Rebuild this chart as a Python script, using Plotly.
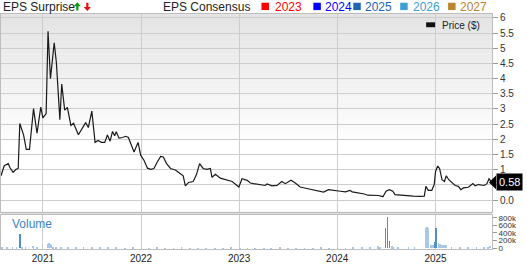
import plotly.graph_objects as go

# ---------------- data ----------------
price_dates = [
    "2020-07-29", "2020-08-10", "2020-08-25", "2020-08-31", "2020-09-12", "2020-09-23", "2020-10-01",
    "2020-10-07", "2020-10-21", "2020-10-31", "2020-11-12", "2020-11-27", "2020-12-10", "2020-12-24",
    "2021-01-01", "2021-01-13", "2021-01-20", "2021-01-29", "2021-02-12", "2021-02-20", "2021-03-05",
    "2021-03-12", "2021-03-23", "2021-04-02", "2021-04-15", "2021-04-25", "2021-05-13", "2021-05-28",
    "2021-06-09", "2021-06-19", "2021-07-02", "2021-07-14", "2021-07-25", "2021-08-07", "2021-08-19",
    "2021-08-29", "2021-09-08", "2021-09-17", "2021-09-25", "2021-10-01", "2021-10-11", "2021-10-24",
    "2021-11-05", "2021-11-15", "2021-11-24", "2021-12-06", "2021-12-21", "2021-12-31", "2022-01-12",
    "2022-01-25", "2022-02-06", "2022-02-18", "2022-03-03", "2022-03-15", "2022-03-25", "2022-04-06",
    "2022-04-21", "2022-05-09", "2022-05-25", "2022-06-07", "2022-06-15", "2022-06-27", "2022-07-14",
    "2022-07-26", "2022-08-07", "2022-08-20", "2022-09-04", "2022-09-16", "2022-09-22", "2022-10-05",
    "2022-10-23", "2022-11-14", "2022-12-06", "2022-12-31", "2023-01-12", "2023-01-31", "2023-02-12",
    "2023-02-24", "2023-03-21", "2023-04-08", "2023-04-15", "2023-05-03", "2023-05-22", "2023-06-09",
    "2023-06-22", "2023-07-13", "2023-07-29", "2023-08-16", "2023-09-10", "2023-10-05", "2023-10-24",
    "2023-11-11", "2023-11-30", "2023-12-19", "2024-01-13", "2024-02-01", "2024-02-17", "2024-02-26",
    "2024-03-21", "2024-04-11", "2024-04-23", "2024-05-15", "2024-06-03", "2024-06-19", "2024-07-01",
    "2024-07-13", "2024-07-26", "2024-08-03", "2024-08-22", "2024-09-16", "2024-10-10", "2024-11-04",
    "2024-11-20", "2024-11-26", "2024-12-05", "2024-12-18", "2024-12-27", "2025-01-01", "2025-01-09",
    "2025-01-16", "2025-01-25", "2025-02-03", "2025-02-10", "2025-02-19", "2025-03-03", "2025-03-15",
    "2025-03-27", "2025-04-05", "2025-04-15", "2025-05-03", "2025-05-20", "2025-05-28", "2025-06-09",
    "2025-07-01", "2025-07-11", "2025-07-19", "2025-07-29",
]
price_values = [
    0.80, 1.13, 1.20, 1.07, 0.91, 1.01, 1.04,
    2.52, 2.15, 1.67, 1.67, 3.01, 2.20, 3.06,
    2.71, 2.85, 5.56, 4.00, 5.18, 4.54, 2.65,
    3.82, 2.96, 3.05, 2.46, 2.53, 2.15, 2.36,
    2.55, 2.39, 2.93, 1.90, 1.96, 1.90, 1.90,
    2.14, 1.94, 2.26, 2.12, 2.25, 2.04, 2.06,
    2.10, 2.06, 1.85, 1.58, 1.90, 1.47, 1.31,
    1.05, 1.01, 1.04, 1.26, 1.44, 1.42, 1.20,
    1.04, 0.99, 0.88, 0.80, 0.47, 0.58, 0.61,
    0.83, 1.20, 1.04, 1.01, 1.04, 0.75, 0.85,
    0.72, 0.67, 0.61, 0.43, 0.70, 0.65, 0.56,
    0.54, 0.51, 0.48, 0.53, 0.47, 0.48, 0.61,
    0.54, 0.65, 0.56, 0.43, 0.38, 0.34, 0.31,
    0.26, 0.34, 0.31, 0.29, 0.27, 0.32, 0.27,
    0.24, 0.20, 0.16, 0.16, 0.15, 0.11, 0.29,
    0.34, 0.29, 0.18, 0.16, 0.15, 0.13, 0.12,
    0.13, 0.45, 0.32, 0.32, 0.51, 0.94, 1.12,
    1.04, 0.67, 0.61, 0.80, 0.67, 0.58, 0.48,
    0.45, 0.34, 0.40, 0.42, 0.54, 0.47, 0.51,
    0.48, 0.54, 0.70, 0.58,
]
last_price_label = "0.58"

# volume: small background bars (light) and spikes (darker)
vol_base_dates = [
    "2020-08-03", "2020-08-20", "2020-09-10", "2020-09-25", "2020-10-14", "2020-10-28", "2020-11-24",
    "2020-11-27", "2020-12-10", "2021-01-19", "2021-01-23", "2021-01-27", "2021-01-31", "2021-02-08",
    "2021-02-20", "2021-03-10", "2021-04-05", "2021-05-03", "2021-06-01", "2021-07-04", "2021-08-02",
    "2021-09-01", "2021-10-01", "2021-11-01", "2021-12-01", "2022-01-03", "2022-02-01", "2022-03-01",
    "2022-04-01", "2022-05-02", "2022-06-01", "2022-07-01", "2022-08-01", "2022-09-01", "2022-10-03",
    "2022-11-01", "2022-12-01", "2023-01-03", "2023-02-01", "2023-03-01", "2023-04-03", "2023-05-01",
    "2023-06-01", "2023-07-03", "2023-08-01", "2023-09-01", "2023-10-02", "2023-11-01", "2023-12-01",
    "2024-01-02", "2024-02-01", "2024-03-01", "2024-04-01", "2024-05-01", "2024-06-01", "2024-06-07",
    "2024-07-22", "2024-07-28", "2024-08-15", "2024-09-22", "2024-10-15", "2024-11-27", "2024-11-30",
    "2024-12-03", "2024-12-06", "2024-12-14", "2024-12-22", "2025-01-12", "2025-01-18", "2025-01-25",
    "2025-02-01", "2025-02-08", "2025-03-01", "2025-04-01", "2025-05-01", "2025-06-02", "2025-07-01",
    "2025-07-16", "2025-07-23",
]
vol_base_values = [
    25000, 15000, 10000, 12000, 40000, 20000, 60000,
    45000, 15000, 120000, 135000, 110000, 95000, 40000,
    25000, 15000, 12000, 10000, 12000, 35000, 10000,
    9000, 10000, 8000, 9000, 10000, 8000, 9000,
    8000, 7000, 9000, 8000, 7000, 8000, 7000,
    8000, 9000, 8000, 7000, 8000, 7000, 8000,
    9000, 8000, 7000, 8000, 7000, 9000, 8000,
    9000, 8000, 10000, 9000, 12000, 50000, 30000,
    50000, 25000, 15000, 35000, 15000, 550000, 560000,
    540000, 525000, 77000, 80000, 145000, 125000, 80000,
    80000, 85000, 20000, 18000, 15000, 15000, 20000,
    30000, 60000,
]
vol_spike_dates = ["2020-10-08", "2024-06-28", "2024-07-06", "2024-07-13", "2024-12-28", "2025-01-03"]
vol_spike_values = [380000, 525000, 825000, 190000, 160000, 525000]

year_ticks = ["2021-01-01", "2022-01-01", "2023-01-01", "2024-01-01", "2025-01-01"]
year_labels = ["2021", "2022", "2023", "2024", "2025"]
price_ticks = [0, 0.5, 1, 1.5, 2, 2.5, 3, 3.5, 4, 4.5, 5, 5.5, 6]
# the 0.5 label sits under the last-price flag in the reference, so it stays blank
price_tick_labels = ["0.0", "", "1", "1.5", "2", "2.5", "3", "3.5", "4", "4.5", "5", "5.5", "6"]
vol_ticks = [0, 200000, 400000, 600000, 800000]
vol_tick_labels = ["0", "200k", "400k", "600k", "800k"]
consensus_years = ["2023", "2024", "2025", "2026", "2027"]

# ---------------- layout helpers ----------------
W, H = 527, 264
ML, MR, MT, MB = 0, 35, 14, 10
PW, PH = W - ML - MR, H - MT - MB


def px_x(px):
    return (px - ML) / PW


def px_y(py):
    return (H - MB - py) / PH


FONT = "Arial, Liberation Sans, sans-serif"
DAY = 86400000

fig = go.Figure()
fig.add_trace(go.Scatter(x=price_dates, y=price_values, mode="lines",
                         line=dict(color="#1a1a1a", width=1.2), xaxis="x", yaxis="y",
                         hoverinfo="skip", showlegend=False))
fig.add_trace(go.Bar(x=vol_base_dates, y=vol_base_values, width=3 * DAY,
                     marker=dict(color="#a9c8e6", line=dict(width=0)), xaxis="x2", yaxis="y2",
                     showlegend=False))
fig.add_trace(go.Bar(x=vol_spike_dates, y=vol_spike_values, width=1.6 * DAY,
                     marker=dict(color="#4f8fca", line=dict(width=0)), xaxis="x2", yaxis="y2",
                     showlegend=False))

x_range = ["2020-07-29", "2025-07-30"]
grid = "#cdcdcd"
axcol = "#bdbdbd"

shapes = []
# gradient background of price panel
n_bands = 34
top_px, bot_px = 14, 150
for i in range(n_bands):
    y0 = top_px + (bot_px - top_px) * i / n_bands
    y1 = top_px + (bot_px - top_px) * (i + 1) / n_bands
    c = int(228 + (255 - 228) * (i / (n_bands - 1)))
    shapes.append(dict(type="rect", xref="paper", yref="paper", x0=0, x1=1,
                       y0=px_y(y1) - 0.001, y1=px_y(y0), fillcolor=f"rgb({c},{c},{c})",
                       line=dict(width=0), layer="below"))
# separator between panels
shapes.append(dict(type="rect", xref="paper", yref="paper", x0=0, x1=1,
                   y0=px_y(219), y1=px_y(216), fillcolor="#dedede", line=dict(width=0), layer="below"))
# "Price ($)" legend swatch
shapes.append(dict(type="rect", xref="paper", yref="paper", x0=px_x(426), x1=px_x(435),
                   y0=px_y(27.5), y1=px_y(22.5), fillcolor="#111", line=dict(width=0)))
# consensus colour squares
sq_x = [261, 313, 353, 400, 448]
sq_col = ["#ff0000", "#0000ff", "#2062b4", "#3aa0d4", "#b8862e"]
for sx, col in zip(sq_x, sq_col):
    shapes.append(dict(type="rect", xref="paper", yref="paper", x0=px_x(sx), x1=px_x(sx + 7.5),
                       y0=px_y(10), y1=px_y(2.5), fillcolor=col, line=dict(width=0)))


def arrow_path(cx, ytip, ybase, up):
    # thick arrow glyph: triangular head plus stem
    hw, sw = 3.6, 1.1
    yneck = ytip + 4.2 if up else ytip - 4.2
    pts = [(cx, ytip), (cx + hw, yneck), (cx + sw, yneck), (cx + sw, ybase),
           (cx - sw, ybase), (cx - sw, yneck), (cx - hw, yneck)]
    return "M " + " L ".join(f"{px_x(x)} {px_y(y)}" for x, y in pts) + " Z"


shapes.append(dict(type="path", xref="paper", yref="paper", path=arrow_path(76.5, 2.0, 10.5, True),
                   fillcolor="#0a9a0a", line=dict(width=0)))
shapes.append(dict(type="path", xref="paper", yref="paper", path=arrow_path(86.5, 11.0, 2.5, False),
                   fillcolor="#e81010", line=dict(width=0)))

# last-price pointer triangle
last_y = price_values[-1]
unit = 31.0  # px per $ (for the triangle half-height)
shapes.append(dict(type="path", xref="paper", yref="y",
                   path=f"M {px_x(489)} {last_y} L {px_x(496)} {last_y + 7/unit} "
                        f"L {px_x(496)} {last_y - 7/unit} Z",
                   fillcolor="#000", line=dict(width=0)))

annotations = [
    dict(text="EPS Surprise", xref="paper", yref="paper", x=px_x(0), y=px_y(6.5), xanchor="left",
         yanchor="middle", showarrow=False, font=dict(family=FONT, size=12, color="#222")),
    dict(text="EPS Consensus", xref="paper", yref="paper", x=px_x(160), y=px_y(6.5), xanchor="left",
         yanchor="middle", showarrow=False, font=dict(family=FONT, size=12, color="#222")),
    dict(text="Price ($)", xref="paper", yref="paper", x=px_x(440), y=px_y(25.5), xanchor="left",
         yanchor="middle", showarrow=False, font=dict(family=FONT, size=10, color="#222")),
    dict(text="Volume", xref="paper", yref="paper", x=px_x(9.5), y=px_y(228.5), xanchor="left",
         yanchor="middle", showarrow=False, font=dict(family=FONT, size=12, color="#3c84c4")),
    dict(text=last_price_label, xref="paper", yref="y", x=px_x(496), y=last_y, xanchor="left",
         yanchor="middle", showarrow=False, bgcolor="#000", borderpad=2,
         font=dict(family=FONT, size=11, color="#fff")),
]
txt_x = [273, 323, 363, 411, 458]
for tx, col, yr in zip(txt_x, sq_col, consensus_years):
    annotations.append(dict(text=yr, xref="paper", yref="paper", x=px_x(tx), y=px_y(6.5),
                            xanchor="left", yanchor="middle", showarrow=False,
                            font=dict(family=FONT, size=12, color=col)))

fig.update_layout(
    width=W, height=H,
    margin=dict(l=ML, r=MR, t=MT, b=MB),
    paper_bgcolor="#ffffff", plot_bgcolor="rgba(0,0,0,0)",
    bargap=0, barmode="overlay",
    font=dict(family=FONT, size=10, color="#333"),
    xaxis=dict(domain=[0, 1], anchor="y", type="date", range=x_range, tickvals=year_ticks,
               ticktext=year_labels, showticklabels=False, showgrid=True, gridcolor=grid,
               gridwidth=1, zeroline=False, showline=True, linecolor=axcol, mirror=True, ticks=""),
    xaxis2=dict(domain=[0, 1], anchor="y2", type="date", range=x_range, matches="x",
                tickvals=year_ticks, ticktext=year_labels, showgrid=True, gridcolor=grid,
                gridwidth=1, zeroline=False, showline=True, linecolor=axcol, mirror=True,
                ticks="", tickfont=dict(family=FONT, size=10, color="#222")),
    yaxis=dict(domain=[px_y(216), 1], anchor="x", side="right", range=[-12 / 31, 190 / 31],
               tickvals=price_ticks, ticktext=price_tick_labels, showgrid=True, gridcolor=grid,
               gridwidth=1, zeroline=False, showline=True, linecolor=axcol, mirror=True,
               ticks="outside", ticklen=5, tickcolor="#999",
               tickfont=dict(family=FONT, size=10, color="#333")),
    yaxis2=dict(domain=[0, px_y(219)], anchor="x2", side="right", range=[-25000, 880000],
                tickvals=vol_ticks, ticktext=vol_tick_labels, showgrid=False, zeroline=False,
                showline=True, linecolor=axcol, mirror=True, ticks="outside", ticklen=4,
                tickcolor="#999", tickfont=dict(family=FONT, size=8, color="#333")),
    shapes=shapes,
    annotations=annotations,
)

fig.write_html("out.html")
